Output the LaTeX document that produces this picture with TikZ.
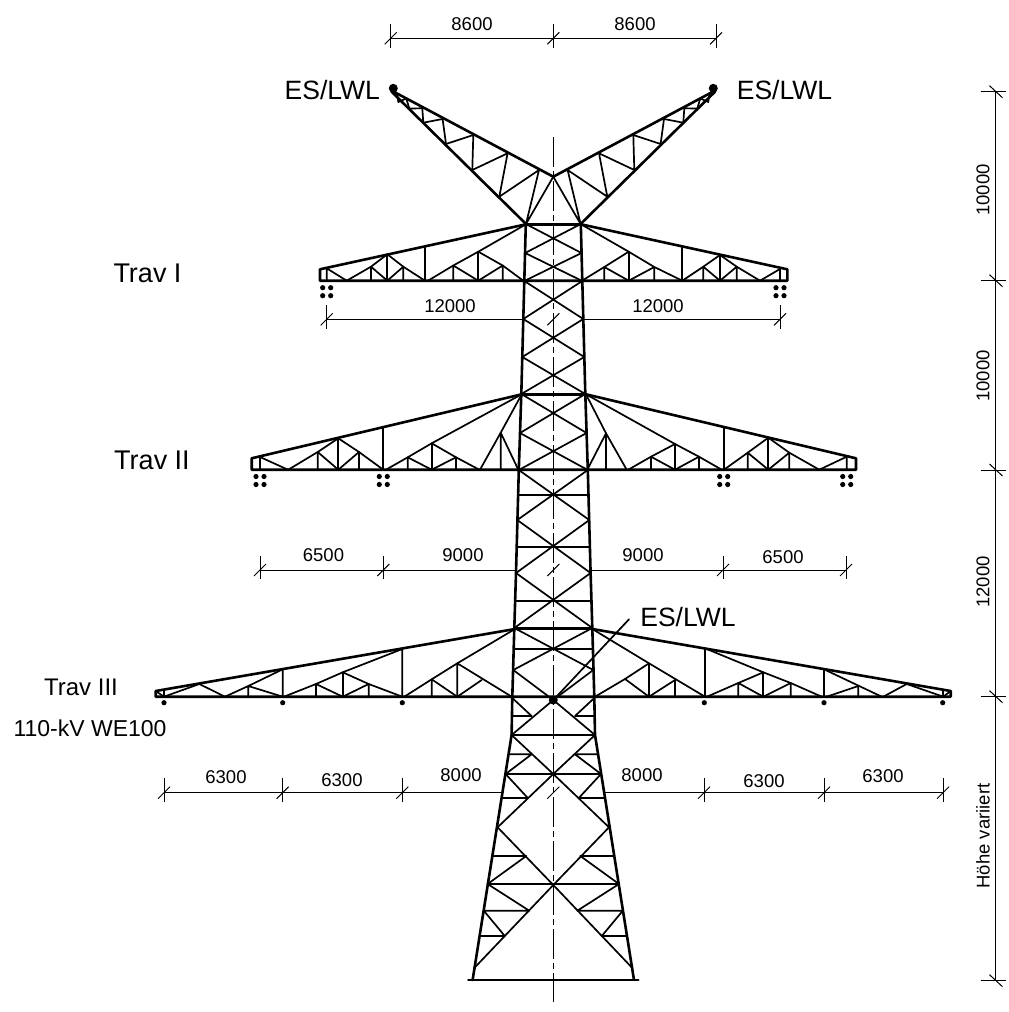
\documentclass[tikz,border=0pt]{standalone}
\usepackage{fontspec}
\setmainfont{Liberation Sans}
\usepackage{tikz}

\begin{document}
\begin{tikzpicture}[x=1pt,y=-1pt,
			chordline/.style={line width=2.6pt, line join=round, line cap=round},
			webline/.style={line width=1.7pt, line join=round, line cap=round},
			dimline/.style={line width=1pt},
			centerline/.style={line width=1pt, dash pattern=on 30pt off 4pt on 6pt off 4pt},
			bigdot/.style={circle, fill=black, inner sep=0pt, minimum size=9pt},
			trav/.style={font=\fontsize{26.5}{28}\selectfont},
			dimtext/.style={font=\fontsize{18.5}{20}\selectfont},
			sidetext/.style={font=\fontsize{18.5}{20}\selectfont, rotate=90},
			]
			\useasboundingbox (0,0) rectangle (1009,1012);
			%Joints
			\coordinate (jl1) at (526,224.3);
			\coordinate (jr1) at (581,224.3);
			\coordinate (jl2) at (521.7,394.3);
			\coordinate (jr2) at (586,394.3);
			\coordinate (jl3) at (515,629);
			\coordinate (jr3) at (592.3,629);
			\coordinate (esend) at (629,619.3);

			%Nodes
			\node[bigdot]      (tipl)      at 	(393.3,88.3)    {};
			\node[bigdot]      (tipr)      at 	(713.3,88.3)    {};
			\node[bigdot]      (esc)       at 	(553.3,700)     {};
			\node[trav]        (esl1)      at 	(332.3,90)      {ES/LWL};
			\node[trav]        (esl2)      at 	(784.5,90)      {ES/LWL};
			\node[trav]        (esl3)      at 	(688,617)       {ES/LWL};
			\node[trav, font=\fontsize{27}{29}\selectfont]  (tr1)  at 	(147.5,273)     {Trav I};
			\node[trav, font=\fontsize{27}{29}\selectfont]  (tr2)  at 	(152,460)       {Trav II};
			\node[trav, font=\fontsize{24}{26}\selectfont]  (tr3)  at 	(81,687)        {Trav III};
			\node[font=\fontsize{23}{25}\selectfont] (we) at (90,728) {110-kV WE100};
			\node[dimtext]     (d1)        at 	(472,24)        {8600};
			\node[dimtext]     (d2)        at 	(635,24)        {8600};
			\node[dimtext]     (d3)        at 	(450,306)       {12000};
			\node[dimtext]     (d4)        at 	(658,306)       {12000};
			\node[dimtext]     (d5)        at 	(323.5,555)     {6500};
			\node[dimtext]     (d6)        at 	(463,555)       {9000};
			\node[dimtext]     (d7)        at 	(643,555)       {9000};
			\node[dimtext]     (d8)        at 	(783,557)       {6500};
			\node[dimtext]     (d9)        at 	(226,777)       {6300};
			\node[dimtext]     (d10)       at 	(342,780)       {6300};
			\node[dimtext]     (d11)       at 	(461,775)       {8000};
			\node[dimtext]     (d12)       at 	(642,775)       {8000};
			\node[dimtext]     (d13)       at 	(764,781)       {6300};
			\node[dimtext]     (d14)       at 	(883,776)       {6300};
			\node[sidetext]    (h1)        at 	(983,190)       {10000};
			\node[sidetext]    (h2)        at 	(983,376)       {10000};
			\node[sidetext]    (h3)        at 	(983,582)       {12000};
			\node[sidetext]    (h4)        at 	(983,836)       {Höhe variiert};

			%Center line
			\draw[centerline] (553.3,137) -- (553.3,1002);

			%Body and top arms
			\foreach \s in {1,-1} {
				\begin{scope}[shift={(553.3,0)},xscale=\s]
					\draw[chordline] (160,91.5) -- (0,176.7);
					\draw[chordline] (161.7,91.7) -- (27.3,224);
					\draw[webline] (0,176.7) -- (27.3,224) -- (14.3,170) -- (54,196.7) -- (45.7,153.3) -- (81,170) -- (80,135) -- (107.3,144) -- (110.7,119) -- (130,122.7) -- (131,108.3) -- (144,108.5) -- (147,98.5) -- (155,102) -- (156,94.5);
					%Legs
					\draw[chordline] (27.5,224) -- (29,281) -- (32,394) -- (34.5,470) -- (37.3,573) -- (39,628) -- (41,697) -- (41.7,735) -- (80.7,980);
					%Diagonals
					\draw[webline] (27.5,224) -- (-28.2,253) -- (29,281) -- (-30,319) -- (31,357) -- (-32,394) -- (33.3,433) -- (-34.5,470) -- (36,520) -- (-37.3,573) -- (39,628) -- (-40,670) -- (0,700) -- (41.7,735) -- (0,774) -- (-55.7,827.3) -- (0,885) -- (79.3,968.3);
					%Bars
					\draw[chordline] (0,224.3) -- (27.5,224.3);
					\draw[chordline] (0,394.3) -- (32,394.3);
					\draw[chordline] (0,628.3) -- (39,628.3);
					\draw[chordline] (0,735) -- (41.7,735);
					\draw[chordline] (0,980) -- (85,980);
					\foreach \y/\w in {495/35.3,546.7/36.7,600.7/38.3,649.3/39.5,774/48,884/66} {
						\draw[webline] (0,\y) -- (\w,\y);
					}
					%Small bars
					\draw[webline] (41,698) -- (21.7,716) -- (41.2,716);
					\draw[webline] (45,754.3) -- (21.7,754.3) -- (47.7,774) -- (25.5,798) -- (51.7,798);
					\draw[webline] (60.5,856) -- (27,856) -- (65.7,884) -- (24,910.7) -- (69.5,910.7) -- (48.5,936) -- (73.5,936);
				\end{scope}
			}

			%Arm outlines
			\draw[chordline] (jl1) -- (320,269.3) -- (320,280.7) -- (787.3,280.7) -- (787.3,269.3) -- (jr1);
			\draw[chordline] (jl2) -- (251.7,458.3) -- (251.7,469.7) -- (856,469.7) -- (856,458.3) -- (jr2);
			\draw[chordline] (jl3) -- (155.7,691) -- (155.7,696.7) -- (950.7,696.7) -- (950.7,691) -- (jr3);

			%Panels
			\foreach \xa/\xb/\xc/\xd/\xe/\yb/\yn/\yt in {
				346.7/371/387.3/403.3/425/280.7/266.7/254.3,
				428/453.3/478.3/502.7/523.3/280.7/265.5/251.7,
				582/604.3/628.7/654.3/682.3/280.7/267/251.7,
				682.3/703.3/720/736.7/760/280.7/266.7/255,
				288.3/317.7/338.3/359/383.3/469.7/452/438.3,
				386/407.7/431.7/456/479.3/469.7/457.3/443.3,
				628.3/651/675/699/721.7/469.7/456.7/444,
				724/747.7/768.3/789.3/819.3/469.7/452.7/437.7,
				284/316/342.7/368.7/402.3/696.7/684/672.3,
				707/738.3/763.3/790.7/821.7/696.7/683/672.3} {
				\draw[webline] (\xa,\yb) -- (\xb,\yn) -- (\xc,\yt) -- (\xd,\yn) -- (\xe,\yb);
				\draw[webline] (\xb,\yb) -- (\xb,\yn) -- (\xc,\yb) -- (\xd,\yn) -- (\xd,\yb);
				\draw[webline] (\xc,\yt) -- (\xc,\yb);
			}

			%Trav I
			\draw[webline] (346.7,280.7) -- (326.7,268.3) -- (326.7,280.7);
			\draw[webline] (425,246.8) -- (425,280.7);
			\draw[webline] (478.3,251.7) -- (jl1);
			\draw[webline] (628.7,251.7) -- (jr1);
			\draw[webline] (682.3,246.7) -- (682.3,280.7);
			\draw[webline] (760,280.7) -- (780,269) -- (780,280.7);
			%Trav II
			\draw[webline] (288,469.7) -- (260,457) -- (260,469.7);
			\draw[webline] (383.3,427.7) -- (383.3,469.7);
			\draw[webline] (431.7,443.3) -- (jl2);
			\draw[webline] (480,469.7) -- (500.7,432.7) -- (jl2);
			\draw[webline] (500.7,469.7) -- (500.7,432.7) -- (518.3,469.7);
			\draw[webline] (jr2) -- (606,433.3) -- (626.7,469.7);
			\draw[webline] (587.3,469.7) -- (606,433.3) -- (606,469.7);
			\draw[webline] (jr2) -- (675,444);
			\draw[webline] (724,427.7) -- (724,469.7);
			\draw[webline] (819.3,469.7) -- (846.7,456.7) -- (846.7,469.7);
			%Trav III
			\draw[webline] (155.7,691) -- (164,696.7) -- (164,690);
			\draw[webline] (164,696.7) -- (199.3,684) -- (225,696.7) -- (248.3,686) -- (282.7,669.3) -- (282.7,696.7) -- (248.3,686) -- (248.3,696.7);
			\draw[webline] (342.7,672.3) -- (402.3,649) -- (402.3,696.7);
			\draw[webline] (404.3,696.7) -- (431.7,679.3) -- (457.3,663.3) -- (jl3);
			\draw[webline] (431.7,696.7) -- (431.7,679.3) -- (457.3,696.7) -- (481.7,680);
			\draw[webline] (457.3,696.7) -- (457.3,663.3) -- (511.7,696.7);
			\draw[webline] (595,696.7) -- (625,679) -- (649,663.3) -- (705,696.7);
			\draw[webline] (625,679) -- (649,696.7) -- (649,663.3) -- (jr3);
			\draw[webline] (649,696.7) -- (675,680) -- (675,696.7);
			\draw[webline] (705,696.7) -- (705,648.3) -- (763.3,672.3);
			\draw[webline] (881.7,696.7) -- (824,669.3) -- (824,696.7);
			\draw[webline] (826.7,696.7) -- (858.3,686) -- (858.3,696.7);
			\draw[webline] (883.3,696.7) -- (906.7,684) -- (943.3,696.7) -- (950.7,691);
			\draw[webline] (943,696.7) -- (943,690.5);

			%Conductors
			\foreach \x/\y in {326.7/291.7,780/291.7,260/480.5,383.3/480.5,723.7/480.5,846.7/480.5} {
				\foreach \a in {-4,4} {
					\foreach \b in {-4,4} {
						\fill (\x+\a,\y+\b) circle (2.6);
					}
				}
			}
			\foreach \x in {164,282.7,402.3,704.3,824,942.7} {
				\fill (\x,702.7) circle (2.6);
			}
			\draw[webline] (esc) -- (esend);

			%Dimensions
			\draw[dimline] (390.7,38.3) -- (716,38.3);
			\foreach \x in {390.7,553.3,716} {
				\draw[dimline] (\x,24) -- (\x,48.3);
				\draw[dimline] (\x-6,44.3) -- (\x+6,32.3);
			}
			\foreach \y/\w/\xl/\xr/\lst in {319.3/30.5/326.7/780/{326.7,780},570/36.5/260/846/{260,383.3,723,846},792.7/51/164/943/{164,282.7,402.3,704,824,943}} {
				\draw[dimline] (\xl,\y) -- (553.3-\w,\y);
				\draw[dimline] (553.3+\w,\y) -- (\xr,\y);
				\draw[dimline] (547.3,\y+6) -- (559.3,\y-6);
				\foreach \x in \lst {
					\draw[dimline] (\x,\y-14.3) -- (\x,\y+9.3);
					\draw[dimline] (\x-6,\y+6) -- (\x+6,\y-6);
				}
			}
			\draw[dimline] (995.7,91.7) -- (995.7,980.7);
			\foreach \y in {91.7,280.7,470,696.7,980.7} {
				\draw[dimline] (980.7,\y) -- (1005.7,\y);
				\draw[dimline] (989.5,\y-6) -- (1002.5,\y+6);
			}
		\end{tikzpicture}
\end{document}
